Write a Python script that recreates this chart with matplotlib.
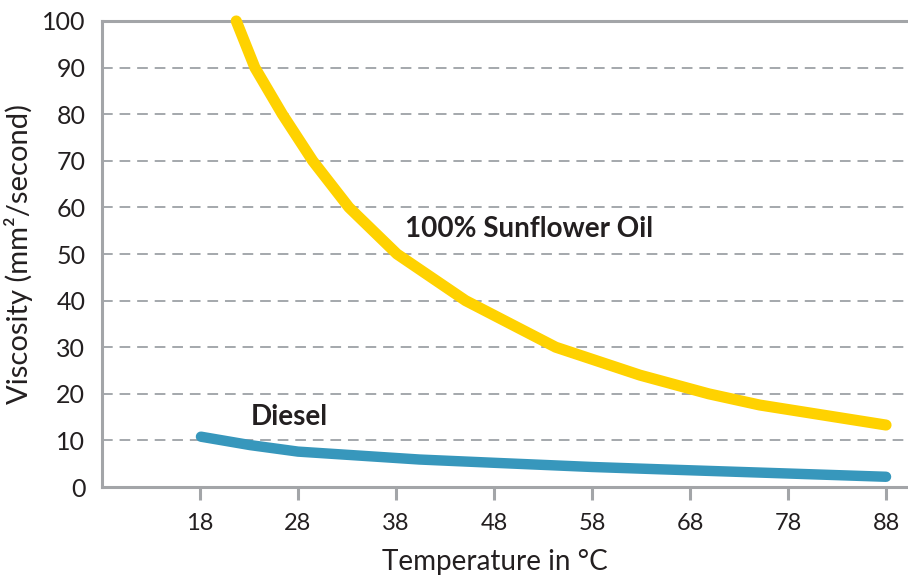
import matplotlib
matplotlib.use("Agg")
import matplotlib.pyplot as plt

plt.rcParams['font.family'] = ['Lato', 'DejaVu Sans']

# temperature (°C) and viscosity (mm²/s)
oil_temp = [21.7, 23.6, 26.4, 29.5, 33.2, 38.1, 45.1, 54.3, 62.9, 69.9, 75.1, 82.0, 88.0]
oil_visc = [100, 90, 80, 70, 60, 50, 40, 30, 24.0, 20, 17.6, 15.3, 13.3]
diesel_temp = [18.1, 23.1, 28, 40.4, 48, 58, 65, 78, 88]
diesel_visc = [10.8, 9.0, 7.6, 5.9, 5.2, 4.3, 3.8, 2.9, 2.2]

x_ticks = [18, 28, 38, 48, 58, 68, 78, 88]
y_ticks = [0, 10, 20, 30, 40, 50, 60, 70, 80, 90, 100]

grey = '#a3a5a8'
text_col = '#231f20'

fig = plt.figure(figsize=(9.08, 5.78), dpi=100)
ax = fig.add_axes([0.1123, 0.1574, 0.8877, 0.8063])

ax.plot(oil_temp, oil_visc, color='#ffd200', lw=8, solid_capstyle='round',
        solid_joinstyle='round', zorder=3, clip_on=False)
ax.plot(diesel_temp, diesel_visc, color='#3797bc', lw=7.5, solid_capstyle='round',
        solid_joinstyle='round', zorder=3)

ax.set_xlim(8, 90.24)
ax.set_ylim(0, 100)
ax.set_xticks(x_ticks)
ax.set_yticks(y_ticks)

for y in y_ticks[1:-1]:
    ax.axhline(y, color='#8c9196', lw=1.1, dashes=(7, 4.5), zorder=1)

for side in ['left', 'bottom', 'top']:
    ax.spines[side].set_color(grey)
    ax.spines[side].set_linewidth(2.2)
ax.spines['right'].set_visible(False)

ax.tick_params(axis='x', direction='out', length=9, width=2.2, color=grey,
               labelsize=17, labelcolor=text_col, pad=10)
ax.tick_params(axis='y', length=0, labelsize=18, labelcolor=text_col, pad=12)

ax.set_xlabel('Temperature in °C', fontsize=20, color=text_col)
ax.xaxis.set_label_coords(0.4876, -0.133)
ax.set_ylabel('Viscosity (mm²/second)', fontsize=21, color=text_col, labelpad=6)

ax.text(38.9, 55.4, '100% Sunflower Oil', fontsize=20, fontweight='bold',
        color=text_col, va='center', ha='left')
ax.text(23.2, 15.0, 'Diesel', fontsize=20, fontweight='bold',
        color=text_col, va='center', ha='left')

fig.savefig('out.png', dpi=100)
